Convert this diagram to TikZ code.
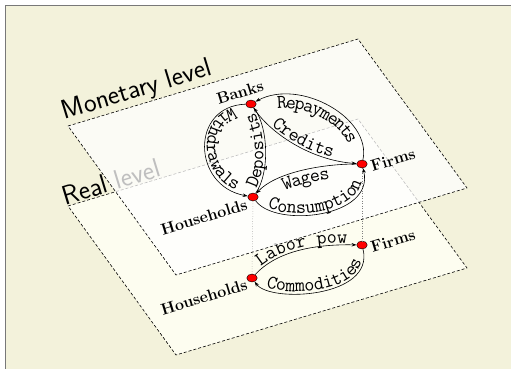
\documentclass[tikz,border=0pt]{standalone}
\usetikzlibrary{arrows.meta,decorations.text,shapes.geometric,calc}
\definecolor{bgbeige}{RGB}{243,242,219}
\definecolor{realfill}{RGB}{253,253,240}
\definecolor{framegray}{RGB}{120,120,120}
\newcommand\flowfont{\fontsize{19.5}{22}\selectfont\ttfamily}
\tikzset{
  dot/.style={ellipse, fill=red, draw=black, line width=0.4pt, minimum width=10.5pt, minimum height=8pt, inner sep=0pt},
  agent/.style={font=\fontsize{16}{18}\bfseries\selectfont, rotate=17, inner sep=0pt},
  flow/.style={-{Stealth[length=5pt,width=3.5pt]}, line width=0.6pt},
  plane/.style={dash pattern=on 3pt off 2pt, line width=0.6pt},
  levellabel/.style={font=\fontsize{27}{30}\sffamily\selectfont, rotate=17, inner sep=0pt},
  ftext/.style 2 args={decorate, decoration={text along path, text align=center, raise=#2,
      text={|\flowfont|#1}}},
  linkline/.style={dotted, gray, line width=0.5pt}
}
\begin{document}
\begin{tikzpicture}[x=1pt,y=1pt]
\useasboundingbox (0,0) rectangle (511,368);
\clip (0,0) rectangle (511,368);
\fill[white] (0,0) rectangle (511,368);
\draw[framegray, line width=1.6pt, fill=bgbeige] (5.3,-10) rectangle (530,362.7);

% ---------- real level ----------
\draw[plane, fill=realfill] (68,162) -- (358,249) -- (467,100) -- (176,13) -- cycle;
\node[levellabel] (reallab) at (111,186) {Real level};
\node[dot] (Hr) at (252,90) {};
\node[dot] (Fr) at (362,123) {};
\node[agent] (Hrl) at (204,71) {Households};
\node[agent] (Frl) at (393,127) {Firms};
\draw[flow] (Hr) .. controls +(23,25) and +(-52,1) .. (Fr);
\path[ftext={Labor pow}{2pt}] (Hr) .. controls +(23,25) and +(-52,1) .. (Fr);
\draw[flow] (Fr) .. controls +(13,-53) and +(18,-25) .. (Hr);
\path[ftext={Commodities}{2pt}] (Hr) .. controls +(18,-25) and +(13,-53) .. (Fr);

% ---------- monetary level ----------
\draw[plane, fill=white, fill opacity=0.75] (68,242) -- (358,329) -- (467,180) -- (176,93) -- cycle;
\node[levellabel] (monlab) at (137,277) {Monetary level};
\node[dot] (B) at (251,264) {};
\node[dot] (F) at (362,204) {};
\node[dot] (H) at (253,171) {};
\node[agent] (Bl) at (240,276) {Banks};
\node[agent] (Fl) at (393,208) {Firms};
\node[agent] (Hl) at (204,151) {Households};

\draw[linkline] (H) -- (Hr);
\draw[linkline] (F) -- (Fr);

% withdrawals
\draw[flow] (B) .. controls +(-61,-2) and +(-61,11) .. (H);
\path[ftext={Withdrawals}{2pt}] (B) .. controls +(-61,-2) and +(-61,11) .. (H);
% deposits
\draw[flow] (H) .. controls +(17,24) and +(17,-24) .. (B);
\path[ftext={Deposits}{2pt}] (H) .. controls +(17,24) and +(17,-24) .. (B);
% credits
\draw[flow] (B) .. controls +(19,-29) and +(-52,4) .. (F);
\path[ftext={Credits}{2pt}] (B) .. controls +(19,-29) and +(-52,4) .. (F);
% repayments
\draw[flow] (F) .. controls +(10,46) and +(49,26) .. (B);
\path[ftext={Repayments}{-14pt}] (B) .. controls +(49,26) and +(10,46) .. (F);
% wages
\draw[flow] (F) .. controls +(-42,0) and +(22,24) .. (H);
\path[ftext={Wages}{-14pt}] (H) .. controls +(22,24) and +(-42,0) .. (F);
% consumption
\draw[flow] (H) .. controls +(22,-31) and +(13,-54) .. (F);
\path[ftext={Consumption}{2pt}] (H) .. controls +(22,-31) and +(13,-54) .. (F);
\end{tikzpicture}
\end{document}
